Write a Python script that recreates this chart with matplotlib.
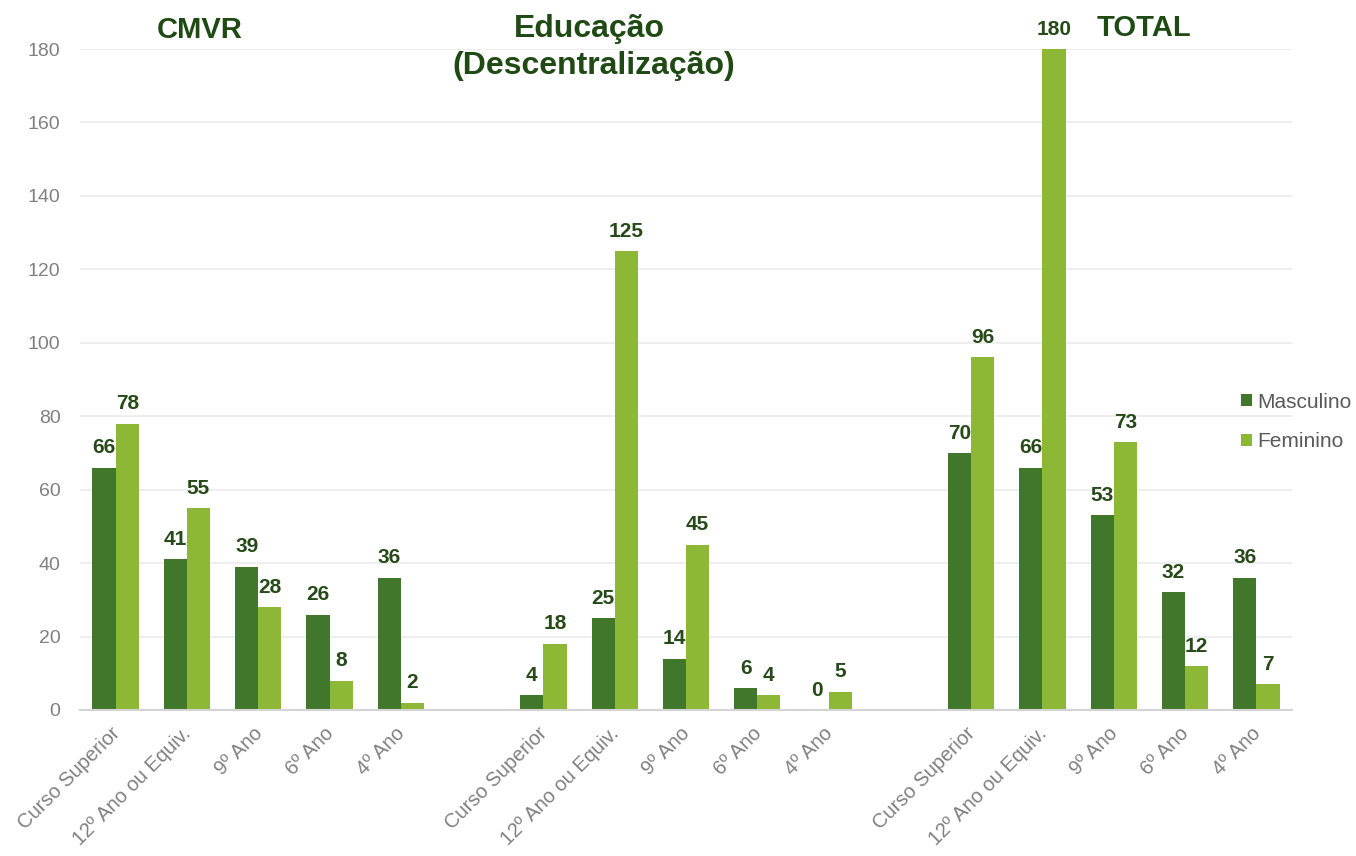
import matplotlib
matplotlib.use("Agg")
import matplotlib.pyplot as plt
import numpy as np

plt.rcParams['font.family'] = ['Liberation Sans', 'DejaVu Sans']

levels = ["Curso Superior", "12º Ano ou Equiv.", "9º Ano", "6º Ano", "4º Ano"]
group_titles = ["CMVR", "Educação", "(Descentralização)", "TOTAL"]
masc_cmvr = [66, 41, 39, 26, 36]
fem_cmvr = [78, 55, 28, 8, 2]
masc_edu = [4, 25, 14, 6, 0]
fem_edu = [18, 125, 45, 4, 5]
masc_total = [70, 66, 53, 32, 36]
fem_total = [96, 180, 73, 12, 7]
yticks = [0, 20, 40, 60, 80, 100, 120, 140, 160, 180]

c_m = "#41772B"
c_f = "#8CB835"
c_lab = "#264A18"
c_title = "#1F4A14"
c_tick = "#808080"

# build category slots with empty gap slots
labels = levels + [""] + levels + [""] + levels
masc = masc_cmvr + [np.nan] + masc_edu + [np.nan] + masc_total
fem = fem_cmvr + [np.nan] + fem_edu + [np.nan] + fem_total
x = np.arange(len(labels))

fig = plt.figure(figsize=(13.56, 8.56), dpi=100)
ax = fig.add_axes([80/1356, 1-710/856, (1292-80)/1356, (710-49)/856])

w = 0.325
bm = ax.bar(x - w/2, masc, w, color=c_m, label="Masculino", zorder=3)
bf = ax.bar(x + w/2, fem, w, color=c_f, label="Feminino", zorder=3)

for bars, vals in ((bm, masc), (bf, fem)):
    for b, v in zip(bars, vals):
        if np.isnan(v):
            continue
        ax.annotate(f"{int(v)}", (b.get_x() + b.get_width()/2, v),
                    xytext=(0, 7.5), textcoords="offset points",
                    ha="center", va="bottom", fontsize=15,
                    fontweight="bold", color=c_lab, zorder=4)

ax.set_xlim(-0.5, len(labels) - 0.5)
ax.set_ylim(0, 180)
ax.set_yticks(yticks)
ax.set_yticklabels([str(t) for t in yticks], fontsize=14, color=c_tick)
ax.set_xticks(x)
ax.set_xticklabels([""] * len(labels))
for xi, lab in zip(x, labels):
    if lab:
        ax.annotate(lab, (xi, 0), xycoords=("data", "axes fraction"),
                    xytext=(-4, -10), textcoords="offset points",
                    rotation=45, ha="right", va="top", rotation_mode="anchor",
                    fontsize=14.5, color=c_tick, annotation_clip=False)
ax.tick_params(axis="both", length=0)
ax.tick_params(axis="y", pad=14)
ax.grid(axis="y", color="#EBEBEB", linewidth=1.2, zorder=0)
for s in ("top", "right", "left"):
    ax.spines[s].set_visible(False)
ax.spines["bottom"].set_color("#D4D4D4")
ax.spines["bottom"].set_linewidth(1.5)
ax.spines["bottom"].set_zorder(5)

# group titles
fig.text(200/1356, 1-30/856, group_titles[0], ha="center", va="center",
         fontsize=21, fontweight="bold", color=c_title)
fig.text(589/1356, 1-29/856, group_titles[1], ha="center", va="center",
         fontsize=23, fontweight="bold", color=c_title)
fig.text(594/1356, 1-66/856, group_titles[2], ha="center", va="center",
         fontsize=23, fontweight="bold", color=c_title)
fig.text(1144/1356, 1-28/856, group_titles[3], ha="center", va="center",
         fontsize=21, fontweight="bold", color=c_title)

fig.legend(handles=[bm, bf], loc="center left",
           bbox_to_anchor=(1241/1356, 1-422/856), frameon=False,
           borderaxespad=0, borderpad=0,
           fontsize=15, labelcolor="#595959", handlelength=0.55,
           handleheight=0.55, handletextpad=0.25, labelspacing=1.0)

fig.savefig("out.png", dpi=100, facecolor="white")
